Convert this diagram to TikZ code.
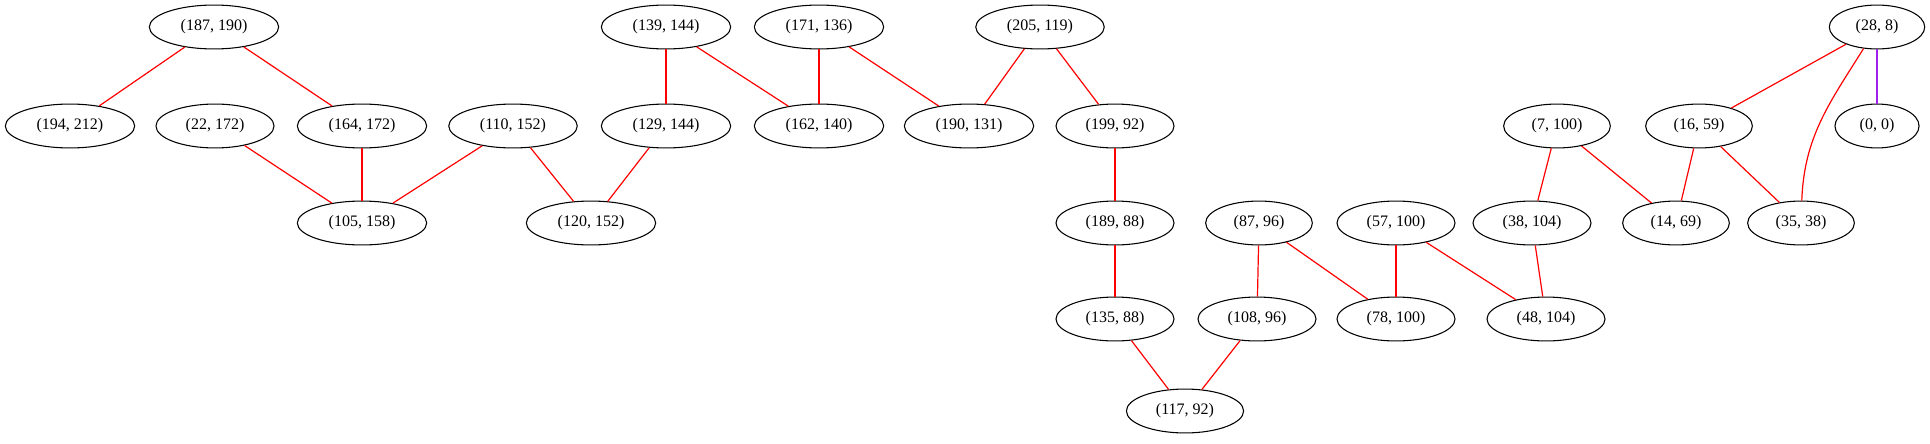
\documentclass[tikz,border=0pt]{standalone}
\usepackage{fontspec}
\setmainfont{Liberation Serif}
\usetikzlibrary{graphs,shapes.geometric}
\definecolor{gvpurple}{HTML}{A020F0}
\tikzset{
    pair/.style ={
        shape=ellipse,
        draw=black,
        line width=0.8pt,
        inner xsep=9.3pt,
        inner ysep=6.2pt,
        font=\fontsize{12}{14}\selectfont
    },
    link/.style ={
        draw=red,
        line width=0.9pt
    }
}

\begin{document}
\begin{tikzpicture}[x=0.75pt,y=-0.75pt]
    \useasboundingbox (0,0) rectangle (1930,443);
    \node[pair] (187x190) at(214,27) {(187, 190)};
    \node[pair] (194x212) at(70,126) {(194, 212)};
    \node[pair] (22x172) at(215,126) {(22, 172)};
    \node[pair] (164x172) at(362,126) {(164, 172)};
    \node[pair] (110x152) at(513,126) {(110, 152)};
    \node[pair] (105x158) at(362,223) {(105, 158)};
    \node[pair] (139x144) at(666,27) {(139, 144)};
    \node[pair] (129x144) at(666,126) {(129, 144)};
    \node[pair] (120x152) at(591,223) {(120, 152)};
    \node[pair] (171x136) at(819,27) {(171, 136)};
    \node[pair] (162x140) at(819,126) {(162, 140)};
    \node[pair] (205x119) at(1040,27) {(205, 119)};
    \node[pair] (190x131) at(969,126) {(190, 131)};
    \node[pair] (199x92) at(1115,126) {(199, 92)};
    \node[pair] (189x88) at(1115,223) {(189, 88)};
    \node[pair] (135x88) at(1115,319) {(135, 88)};
    \node[pair] (117x92) at(1185,411) {(117, 92)};
    \node[pair] (87x96) at(1259,223) {(87, 96)};
    \node[pair] (108x96) at(1257,319) {(108, 96)};
    \node[pair] (57x100) at(1396,223) {(57, 100)};
    \node[pair] (78x100) at(1396,319) {(78, 100)};
    \node[pair] (7x100) at(1557,126) {(7, 100)};
    \node[pair] (38x104) at(1532,223) {(38, 104)};
    \node[pair] (48x104) at(1546,319) {(48, 104)};
    \node[pair] (16x59) at(1699,126) {(16, 59)};
    \node[pair] (14x69) at(1676,223) {(14, 69)};
    \node[pair] (35x38) at(1801,223) {(35, 38)};
    \node[pair] (28x8) at(1877,27) {(28, 8)};
    \node[pair] (0x0) at(1877,126) {(0, 0)};
    \graph[edges=link]{
        (187x190)--(194x212);
        (187x190)--(164x172)--(105x158);
        (22x172)--(105x158);
        (110x152)--(105x158);
        (110x152)--(120x152);
        (139x144)--(129x144)--(120x152);
        (139x144)--(162x140);
        (171x136)--(162x140);
        (171x136)--(190x131);
        (205x119)--(190x131);
        (205x119)--(199x92)--(189x88)--(135x88)--(117x92);
        (87x96)--(108x96)--(117x92);
        (87x96)--(78x100);
        (57x100)--(78x100);
        (57x100)--(48x104);
        (7x100)--(38x104)--(48x104);
        (7x100)--(14x69);
        (28x8)--(16x59)--(14x69);
        (16x59)--(35x38);
        (28x8)--[out=-122,in=88](35x38);
        (28x8)--[draw=gvpurple](0x0);
    };
\end{tikzpicture}
\end{document}
